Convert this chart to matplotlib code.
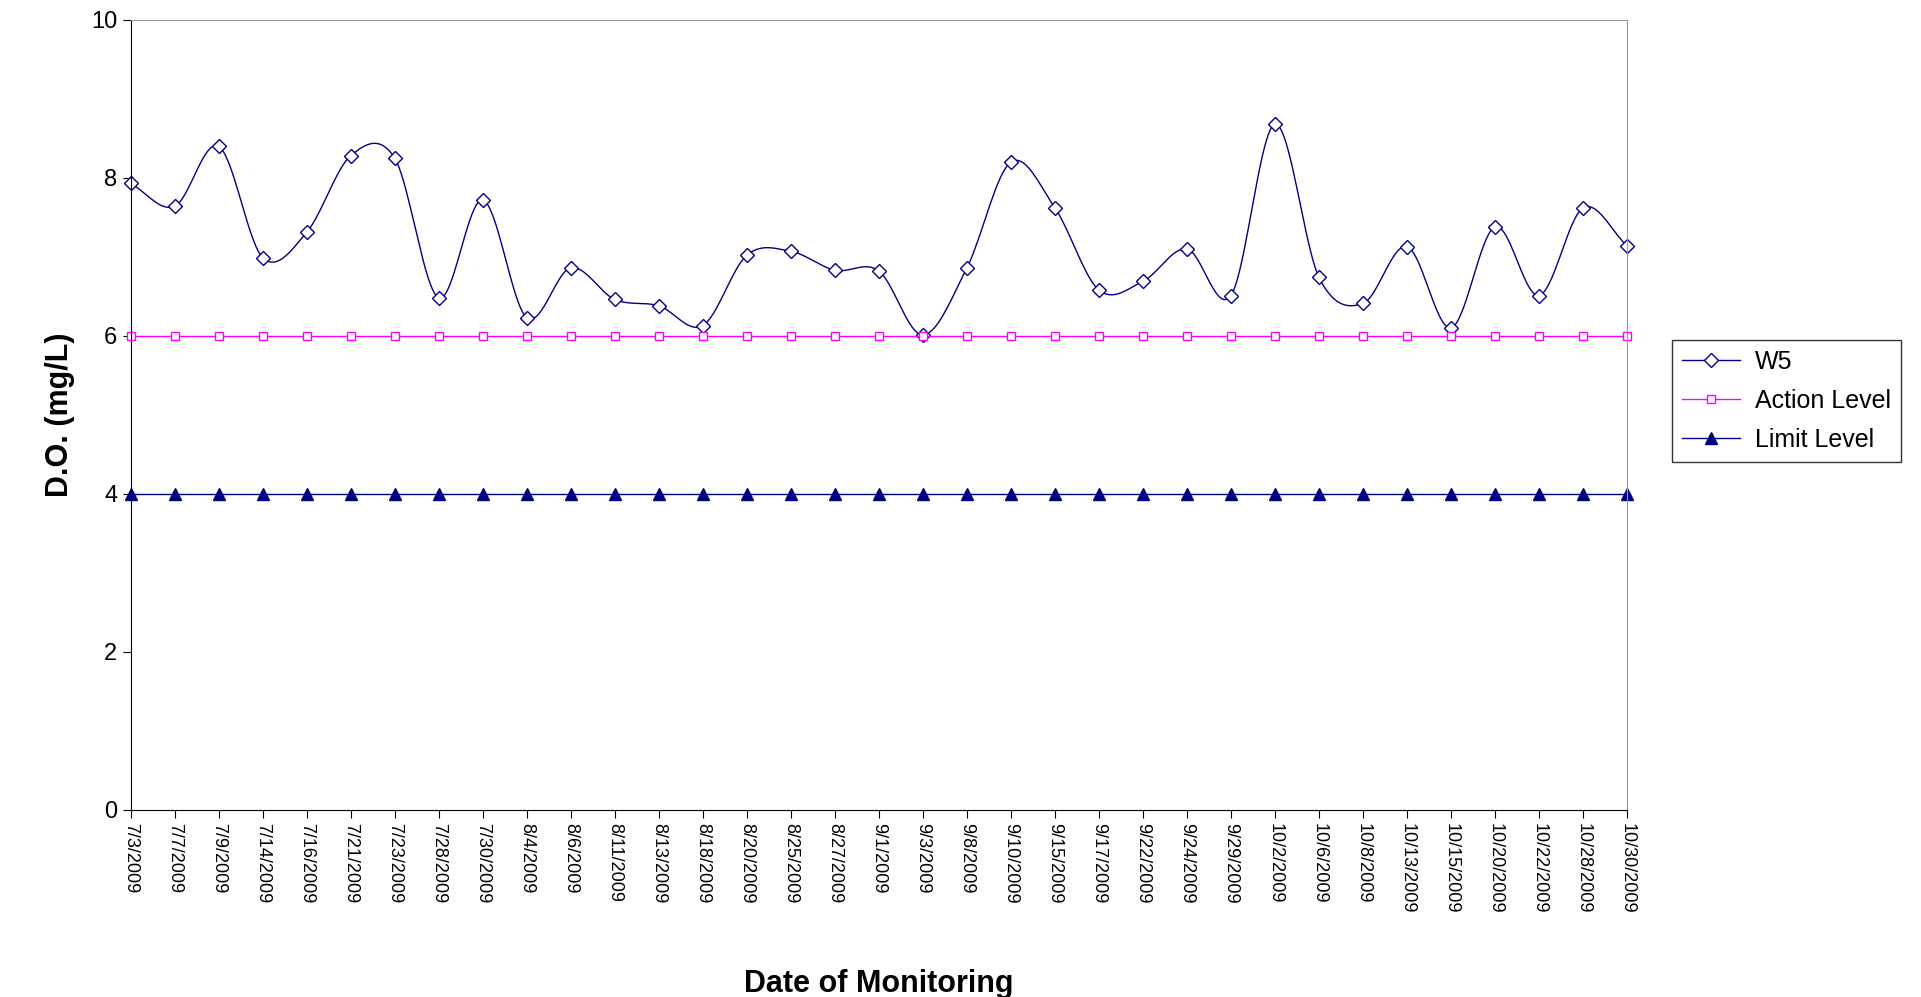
import numpy as np
import matplotlib.pyplot as plt

plt.rcParams['font.family'] = ['Liberation Sans', 'DejaVu Sans']

dates = ['7/3/2009', '7/7/2009', '7/9/2009', '7/14/2009', '7/16/2009', '7/21/2009', '7/23/2009',
         '7/28/2009', '7/30/2009', '8/4/2009', '8/6/2009', '8/11/2009', '8/13/2009', '8/18/2009',
         '8/20/2009', '8/25/2009', '8/27/2009', '9/1/2009', '9/3/2009', '9/8/2009', '9/10/2009',
         '9/15/2009', '9/17/2009', '9/22/2009', '9/24/2009', '9/29/2009', '10/2/2009', '10/6/2009',
         '10/8/2009', '10/13/2009', '10/15/2009', '10/20/2009', '10/22/2009', '10/28/2009', '10/30/2009']
w5 = [7.93, 7.64, 8.40, 6.99, 7.31, 8.28, 8.25, 6.48, 7.72, 6.23, 6.86, 6.46, 6.38, 6.13,
      7.02, 7.07, 6.83, 6.82, 6.01, 6.86, 8.20, 7.62, 6.58, 6.69, 7.10, 6.51, 8.68, 6.74,
      6.41, 7.13, 6.10, 7.38, 6.51, 7.62, 7.14]
action_level = [6] * len(dates)
limit_level = [4] * len(dates)


def smooth(x, y, n=20):
    # Catmull-Rom curve like Excel's smoothed line
    x = np.asarray(x, float); y = np.asarray(y, float)
    px = np.concatenate([[2 * x[0] - x[1]], x, [2 * x[-1] - x[-2]]])
    py = np.concatenate([[2 * y[0] - y[1]], y, [2 * y[-1] - y[-2]]])
    xs, ys = [], []
    t = np.linspace(0, 1, n, endpoint=False)
    for i in range(1, len(px) - 2):
        for p, out in ((px, xs), (py, ys)):
            p0, p1, p2, p3 = p[i - 1], p[i], p[i + 1], p[i + 2]
            out.extend(0.5 * (2 * p1 + (-p0 + p2) * t + (2 * p0 - 5 * p1 + 4 * p2 - p3) * t ** 2
                              + (-p0 + 3 * p1 - 3 * p2 + p3) * t ** 3))
    xs.append(x[-1]); ys.append(y[-1])
    return np.array(xs), np.array(ys)


x = np.arange(len(dates))
fig = plt.figure(figsize=(19.21, 9.97), dpi=100)
ax = fig.add_axes([0.068, 0.188, 0.779, 0.792])

sx, sy = smooth(x, w5)
ax.plot(sx, sy, color='#000080', lw=1)
ax.plot(x, w5, ls='none', marker='D', ms=7, mfc='white', mec='#000080', mew=1, clip_on=False)
ax.plot([], [], color='#000080', lw=1, marker='D', ms=7, mfc='white', mec='#000080', label='W5')
ax.plot(x, action_level, color='#FF00FF', lw=1, marker='s', ms=6, mfc='white', mec='#FF00FF',
        mew=1, label='Action Level', clip_on=False)
ax.plot(x, limit_level, color='#000080', lw=1, marker='^', ms=9, mfc='#000080', mec='#000080',
        label='Limit Level', clip_on=False)

ax.set_xlim(0, len(dates) - 1)
ax.set_ylim(0, 10)
ax.set_yticks([0, 2, 4, 6, 8, 10])
ax.set_xticks(x)
ax.set_xticklabels(dates, rotation=-90, fontsize=13)
ax.tick_params(axis='y', labelsize=17)
ax.tick_params(direction='out', length=6)
for s in ['top', 'right']:
    ax.spines[s].set_color('#999999')
ax.set_ylabel('D.O. (mg/L)', fontsize=22, fontweight='bold', labelpad=12)
ax.set_xlabel('Date of Monitoring', fontsize=22, fontweight='bold', labelpad=40)

fig.legend(loc='upper left', bbox_to_anchor=(0.864, 0.672), fontsize=18, frameon=True,
           fancybox=False, edgecolor='black', borderpad=0.4, handlelength=2.3,
           handletextpad=0.6, labelspacing=0.6)

fig.savefig('out.png', dpi=100)
